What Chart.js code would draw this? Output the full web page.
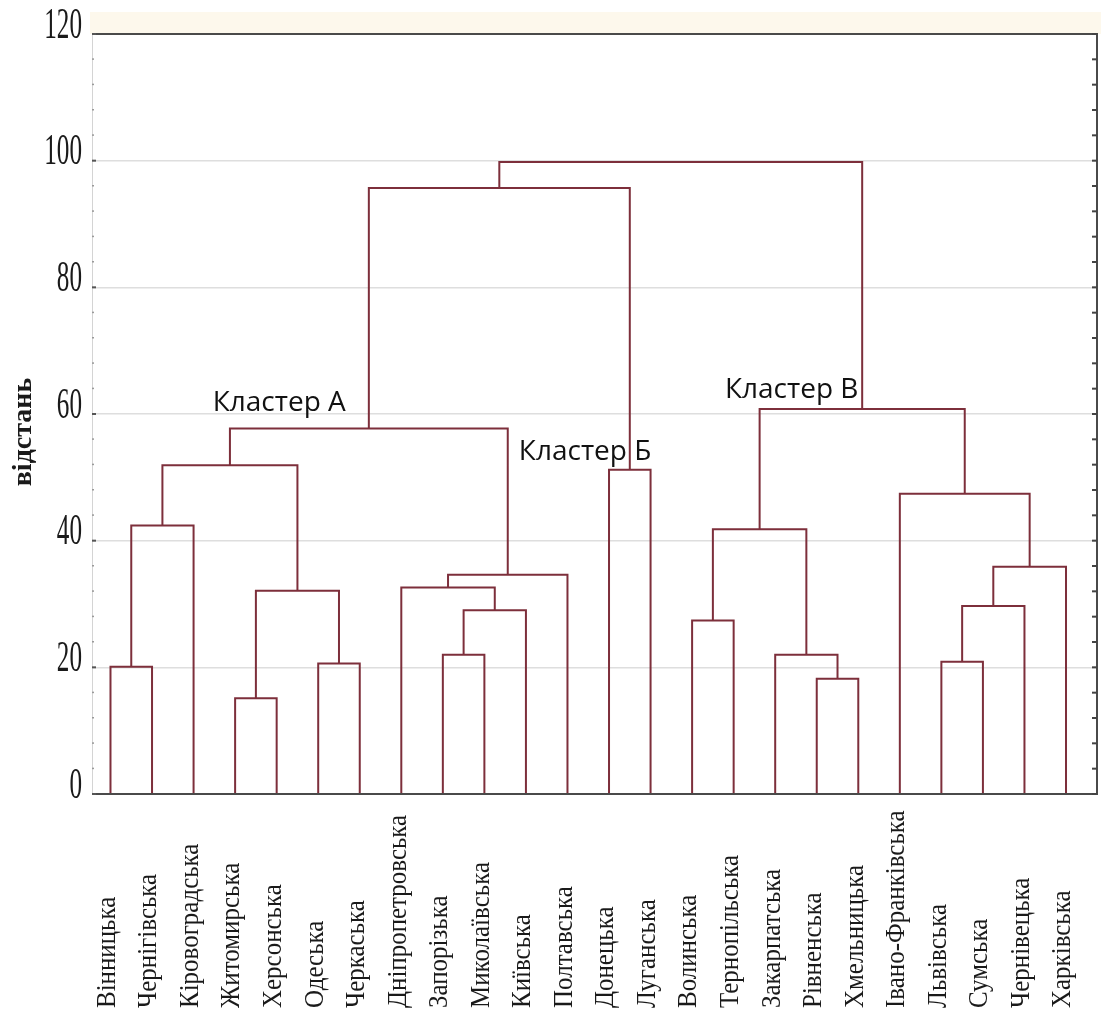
<!DOCTYPE html>
<html>
<head>
<meta charset="utf-8">
<script src="https://cdn.jsdelivr.net/npm/chart.js@4"></script>
<style>
  html, body { margin: 0; padding: 0; background: #ffffff; }
  canvas { display: block; }
</style>
</head>
<body>
<canvas id="chart" width="1104" height="1017" style="width:1104px;height:1017px"></canvas>
<script>
// листки дендрограми (області)
const leaves = ['Вінницька', 'Чернігівська', 'Кіровоградська', 'Житомирська', 'Херсонська', 'Одеська',
    'Черкаська', 'Дніпропетровська', 'Запорізька', 'Миколаївська', 'Київська', 'Полтавська',
    'Донецька', 'Луганська', 'Волинська', 'Тернопільська', 'Закарпатська', 'Рівненська',
    'Хмельницька', 'Івано-Франківська', 'Львівська', 'Сумська', 'Чернівецька', 'Харківська'];

// об'єднання: вузли 0..23 - листки, 24.. - кластери в порядку утворення
const mergeLeft   = [0, 24, 3, 5, 26, 25, 8, 30, 7, 32, 29, 12, 34, 14, 17, 16, 37, 20, 41, 42, 19, 40, 36];
const mergeRight  = [1, 2, 4, 6, 27, 28, 9, 10, 31, 11, 33, 13, 35, 15, 18, 38, 39, 21, 22, 23, 43, 44, 45];
const mergeHeight = [20.1, 42.4, 15.1, 20.6, 32.1, 51.9, 22.0, 29.0, 32.6, 34.6, 57.7, 51.2, 95.7,
    27.4, 18.2, 22.0, 41.8, 20.9, 29.7, 35.9, 47.4, 60.8, 99.8];

const yTicks = [0, 20, 40, 60, 80, 100, 120];

// підписи кластерів: текст, x (індекс листка), y (відстань)
const clusterNames = ['Кластер А', 'Кластер Б', 'Кластер В'];
const clusterX = [2.46, 9.83, 14.79];
const clusterY = [60.4, 52.8, 62.6];

const lineColor = '#7d2f3b';

// положення вузлів
const nodeX = leaves.map((_, i) => i);
const nodeH = leaves.map(() => 0);
const datasets = [];
for (let k = 0; k < mergeLeft.length; k++) {
    const a = mergeLeft[k], b = mergeRight[k], h = mergeHeight[k];
    datasets.push({
        data: [
            { x: nodeX[a], y: nodeH[a] },
            { x: nodeX[a], y: h },
            { x: nodeX[b], y: h },
            { x: nodeX[b], y: nodeH[b] }
        ],
        showLine: true,
        borderColor: lineColor,
        borderWidth: 2,
        pointRadius: 0,
        tension: 0,
        fill: false
    });
    nodeX.push((nodeX[a] + nodeX[b]) / 2);
    nodeH.push(h);
}

const decor = {
    id: 'decor',
    beforeDraw(chart) {
        const c = chart.ctx;
        c.save();
        c.fillStyle = '#ffffff';
        c.fillRect(0, 0, chart.width, chart.height);
        const a = chart.chartArea;
        c.fillStyle = '#fdf8ec';
        c.fillRect(a.left - 2, 12, a.right - a.left + 6, a.top - 12);
        c.restore();
    },
    afterDatasetsDraw(chart) {
        const c = chart.ctx;
        const a = chart.chartArea;
        const xs = chart.scales.x, ys = chart.scales.y;
        c.save();

        // рамка
        c.strokeStyle = '#d4d4d4';
        c.lineWidth = 1;
        c.beginPath();
        c.moveTo(a.left + 0.5, a.top); c.lineTo(a.left + 0.5, a.bottom);
        c.stroke();
        c.strokeStyle = '#4a4a4a';
        c.lineWidth = 2;
        c.beginPath();
        c.moveTo(a.left, a.top); c.lineTo(a.right, a.top); c.lineTo(a.right, a.bottom); c.lineTo(a.left, a.bottom);
        c.stroke();

        // дрібні поділки
        for (let v = 0; v <= 120; v += 4) {
            const y = ys.getPixelForValue(v);
            const major = v % 20 === 0;
            c.fillStyle = major ? '#555555' : '#9a9a9a';
            c.fillRect(a.left, y - 1, major ? 4 : 2, major ? 2 : 1.5);
            c.fillStyle = '#444444';
            c.fillRect(a.right - 5, y - 1, 5, 2);
        }

        // підписи осі Y
        c.fillStyle = '#1a1a1a';
        c.textAlign = 'right';
        c.textBaseline = 'middle';
        for (const t of yTicks) {
            c.save();
            c.translate(a.left - 10, ys.getPixelForValue(t) - 8);
            c.scale(0.56, 1);
            c.font = '45px "Liberation Serif", serif';
            c.fillText(String(t), 0, 0);
            c.restore();
        }

        // назва осі Y
        c.save();
        c.translate(24, 432);
        c.rotate(-Math.PI / 2);
        c.font = 'bold 28px "Liberation Serif", serif';
        c.textAlign = 'center';
        c.textBaseline = 'middle';
        c.fillText('відстань', 0, 0);
        c.restore();

        // назви листків
        c.font = '26px "Liberation Serif", serif';
        c.textAlign = 'left';
        c.textBaseline = 'middle';
        leaves.forEach((name, i) => {
            c.save();
            c.translate(xs.getPixelForValue(i) - 3, 1008);
            c.rotate(-Math.PI / 2);
            c.scale(0.96, 1.08);
            c.fillText(name, 0, 0);
            c.restore();
        });

        // назви кластерів
        c.font = '28px "Open Sans", sans-serif';
        c.textAlign = 'left';
        c.textBaseline = 'alphabetic';
        c.fillStyle = '#111111';
        clusterNames.forEach((name, i) => {
            c.fillText(name, xs.getPixelForValue(clusterX[i]), ys.getPixelForValue(clusterY[i]));
        });

        c.restore();
    }
};

new Chart(document.getElementById('chart').getContext('2d'), {
    type: 'scatter',
    data: { datasets: datasets },
    options: {
        responsive: false,
        animation: false,
        layout: { padding: { top: 34, right: 7, left: 0, bottom: 0 } },
        plugins: {
            legend: { display: false },
            tooltip: { enabled: false }
        },
        scales: {
            x: {
                type: 'linear',
                min: -0.445,
                max: 23.746,
                ticks: { display: false },
                grid: { display: false },
                border: { display: false },
                afterFit(s) { s.height = 1017 - 794; }
            },
            y: {
                type: 'linear',
                min: 0,
                max: 120,
                ticks: { display: false, stepSize: 20 },
                grid: {
                    drawTicks: false,
                    color: ctx => (ctx.tick && ctx.tick.value > 0 && ctx.tick.value < 120) ? '#dedede' : 'rgba(0,0,0,0)',
                    lineWidth: 1.5
                },
                border: { display: false },
                afterFit(s) { s.width = 92; }
            }
        }
    },
    plugins: [decor]
});
</script>
</body>
</html>
